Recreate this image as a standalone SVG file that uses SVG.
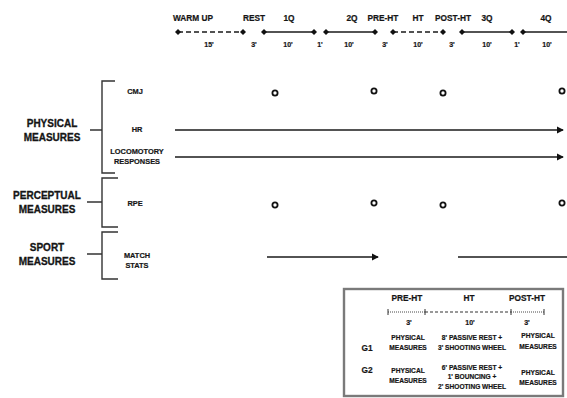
<svg xmlns="http://www.w3.org/2000/svg" width="567" height="398" viewBox="0 0 567 398">
<style>
text{font-family:"Liberation Sans",Arial,sans-serif;font-weight:bold;fill:#151515;text-anchor:middle;stroke:#151515;stroke-width:0.2}
.lbl{font-size:8.3px}
.dur{font-size:7px}
.big{font-size:10px;stroke-width:0.3}
.sm{font-size:7.4px}
.bx{font-size:6.6px}
.ln{stroke:#1a1a1a;stroke-width:1.6;fill:none}
.ds{stroke:#1a1a1a;stroke-width:1.6;fill:none;stroke-dasharray:5 3}
.br{stroke:#333;stroke-width:1.4;fill:none}
.dot{fill:#fff;stroke:#111;stroke-width:1.8}
.dm{fill:#111}
</style>
<defs>
<marker id="ah" viewBox="0 0 8 8" refX="7" refY="4" markerWidth="4.5" markerHeight="4.5" orient="auto" markerUnits="strokeWidth">
<path d="M0,0 L8,4 L0,8 Z" fill="#111"/>
</marker>
<path id="d" d="M0,-3 L3,0 L0,3 L-3,0 Z"/>
</defs>

<g id="timeline">
<text class="lbl" x="193" y="21">WARM UP</text>
<text class="lbl" x="254" y="21">REST</text>
<text class="lbl" x="289" y="21">1Q</text>
<text class="lbl" x="352" y="21">2Q</text>
<text class="lbl" x="383" y="21">PRE-HT</text>
<text class="lbl" x="418" y="21">HT</text>
<text class="lbl" x="453" y="21">POST-HT</text>
<text class="lbl" x="487" y="21">3Q</text>
<text class="lbl" x="546" y="21">4Q</text>
<line class="ds" x1="178" y1="32" x2="243" y2="32"/>
<line class="ln" x1="264" y1="32" x2="314" y2="32"/>
<line class="ln" x1="326" y1="32" x2="375" y2="32"/>
<line class="ds" x1="393" y1="32" x2="443" y2="32"/>
<line class="ln" x1="462" y1="32" x2="512" y2="32"/>
<line class="ln" x1="523" y1="32" x2="567" y2="32"/>
<use href="#d" class="dm" x="178" y="32"/>
<use href="#d" class="dm" x="243" y="32"/>
<use href="#d" class="dm" x="264" y="32"/>
<use href="#d" class="dm" x="314" y="32"/>
<use href="#d" class="dm" x="326" y="32"/>
<use href="#d" class="dm" x="375" y="32"/>
<use href="#d" class="dm" x="393" y="32"/>
<use href="#d" class="dm" x="443" y="32"/>
<use href="#d" class="dm" x="462" y="32"/>
<use href="#d" class="dm" x="512" y="32"/>
<use href="#d" class="dm" x="523" y="32"/>
<text class="dur" x="209" y="47">15'</text>
<text class="dur" x="254" y="47">3'</text>
<text class="dur" x="288" y="47">10'</text>
<text class="dur" x="320" y="47">1'</text>
<text class="dur" x="349" y="47">10'</text>
<text class="dur" x="385" y="47">3'</text>
<text class="dur" x="418" y="47">10'</text>
<text class="dur" x="452" y="47">3'</text>
<text class="dur" x="487" y="47">10'</text>
<text class="dur" x="517" y="47">1'</text>
<text class="dur" x="547" y="47">10'</text>
</g>

<g id="physical">
<text class="big" x="52" y="127">PHYSICAL</text>
<text class="big" x="52" y="141">MEASURES</text>
<path class="br" d="M90,130 H102 M115,81 H102 V173 H115"/>
<text class="sm" x="135" y="94">CMJ</text>
<text class="sm" x="137" y="132">HR</text>
<text class="sm" x="137" y="154">LOCOMOTORY</text>
<text class="sm" x="137" y="164">RESPONSES</text>
</g>

<g id="perceptual">
<text class="big" x="47" y="199">PERCEPTUAL</text>
<text class="big" x="47" y="213">MEASURES</text>
<path class="br" d="M87,202 H102 M118,178 H102 V227 H118"/>
<text class="sm" x="135" y="206">RPE</text>
</g>

<g id="sport">
<text class="big" x="47" y="251">SPORT</text>
<text class="big" x="47" y="265">MEASURES</text>
<path class="br" d="M87,254 H102 M118,232 H102 V279 H118"/>
<text class="sm" x="137" y="258">MATCH</text>
<text class="sm" x="137" y="268">STATS</text>
</g>

<g id="connectors">
<line class="ln" x1="175" y1="130" x2="563" y2="130" marker-end="url(#ah)"/>
<line class="ln" x1="175" y1="157" x2="563" y2="157" marker-end="url(#ah)"/>
<line class="ln" x1="267" y1="257" x2="378" y2="257" marker-end="url(#ah)"/>
<line class="ln" x1="458" y1="257" x2="567" y2="257"/>
</g>

<g id="markers">
<circle class="dot" cx="275" cy="93" r="2.6"/>
<circle class="dot" cx="374" cy="91" r="2.6"/>
<circle class="dot" cx="443" cy="93" r="2.6"/>
<circle class="dot" cx="562" cy="91" r="2.6"/>
<circle class="dot" cx="275" cy="205" r="2.6"/>
<circle class="dot" cx="374" cy="203" r="2.6"/>
<circle class="dot" cx="443" cy="205" r="2.6"/>
<circle class="dot" cx="562" cy="203" r="2.6"/>
</g>

<g id="legend">
<rect x="344" y="289" width="219" height="107" fill="#fff" stroke="#7a7a7a" stroke-width="2.4"/>
<text class="lbl" x="407" y="301">PRE-HT</text>
<text class="lbl" x="469" y="301">HT</text>
<text class="lbl" x="527" y="301">POST-HT</text>
<line x1="388" y1="312" x2="425" y2="312" stroke="#333" stroke-width="0.9" stroke-dasharray="1 1"/>
<line x1="425" y1="312" x2="511" y2="312" stroke="#333" stroke-width="1.2" stroke-dasharray="3 2"/>
<line x1="511" y1="312" x2="544" y2="312" stroke="#333" stroke-width="0.9" stroke-dasharray="1 1"/>
<path d="M388,309 V315 M425,309 V315 M511,309 V315 M544,309 V315" stroke="#333" stroke-width="1"/>
<text class="dur" x="409" y="325">3'</text>
<text class="dur" x="470" y="325">10'</text>
<text class="dur" x="527" y="325">3'</text>
<text class="lbl" x="367" y="351">G1</text>
<text class="bx" x="408" y="340">PHYSICAL</text>
<text class="bx" x="408" y="350">MEASURES</text>
<text class="bx" x="472" y="340">8' PASSIVE REST +</text>
<text class="bx" x="472" y="350">3' SHOOTING WHEEL</text>
<text class="bx" x="538" y="338">PHYSICAL</text>
<text class="bx" x="538" y="349">MEASURES</text>
<text class="lbl" x="367" y="373">G2</text>
<text class="bx" x="408" y="373">PHYSICAL</text>
<text class="bx" x="408" y="383">MEASURES</text>
<text class="bx" x="472" y="370">6' PASSIVE REST +</text>
<text class="bx" x="472" y="379">1' BOUNCING +</text>
<text class="bx" x="472" y="389">2' SHOOTING WHEEL</text>
<text class="bx" x="538" y="375">PHYSICAL</text>
<text class="bx" x="538" y="385">MEASURES</text>
</g>
</svg>
